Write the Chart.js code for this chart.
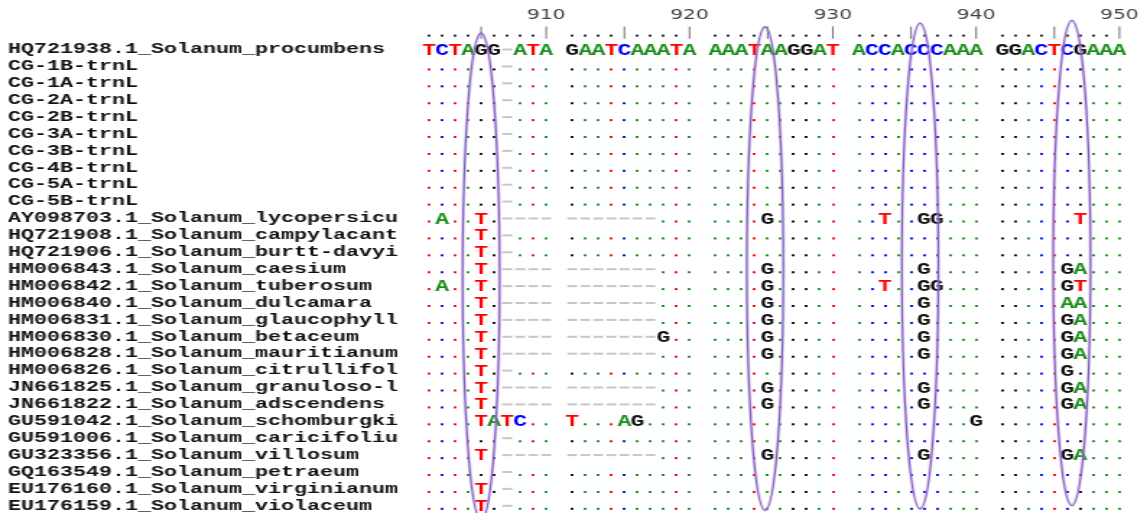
<!DOCTYPE html>
<html><head><meta charset="utf-8">
<script src="https://cdn.jsdelivr.net/npm/chart.js@4.4.1/dist/chart.umd.min.js"></script>
<style>html,body{margin:0;padding:0;background:#fff;}#wrap{width:1147px;height:513px;overflow:hidden;}canvas{display:block;}</style>
</head><body>
<div id="wrap"><canvas id="c" width="794" height="513" style="width:1147px;height:513px"></canvas></div>
<script>
// ---------- data ----------
const firstColumn = 901;
const tickColumns = [910, 920, 930, 940, 950];
const sequenceNames = [
  "HQ721938.1_Solanum_procumbens",
  "CG-1B-trnL","CG-1A-trnL","CG-2A-trnL","CG-2B-trnL","CG-3A-trnL",
  "CG-3B-trnL","CG-4B-trnL","CG-5A-trnL","CG-5B-trnL",
  "AY098703.1_Solanum_lycopersicu",
  "HQ721908.1_Solanum_campylacant",
  "HQ721906.1_Solanum_burtt-davyi",
  "HM006843.1_Solanum_caesium",
  "HM006842.1_Solanum_tuberosum",
  "HM006840.1_Solanum_dulcamara",
  "HM006831.1_Solanum_glaucophyll",
  "HM006830.1_Solanum_betaceum",
  "HM006828.1_Solanum_mauritianum",
  "HM006826.1_Solanum_citrullifol",
  "JN661825.1_Solanum_granuloso-l",
  "JN661822.1_Solanum_adscendens",
  "GU591042.1_Solanum_schomburgki",
  "GU591006.1_Solanum_caricifoliu",
  "GU323356.1_Solanum_villosum",
  "GQ163549.1_Solanum_petraeum",
  "EU176160.1_Solanum_virginianum",
  "EU176159.1_Solanum_violaceum"
];
// row 0 = reference; '.' identical to reference, '-' gap, letter = substitution
const alignedSequences = [
  "TCTAGG-ATA GAATCAAATA AAATAAGGAT ACCACCCAAA GGACTCGAAA",
  "......-... .......... .......... .......... ..........",
  "......-... .......... .......... .......... ..........",
  "......-... .......... .......... .......... ..........",
  "......-... .......... .......... .......... ..........",
  "......-... .......... .......... .......... ..........",
  "......-... .......... .......... .......... ..........",
  "......-... .......... .......... .......... ..........",
  "......-... .......... .......... .......... ..........",
  "......-... .......... .......... .......... ..........",
  ".A..T.---- -------... ....G..... ..T..GG... ......T...",
  "....T.-... .......... .......... .......... ..........",
  "....T.-... .......... .......... .......... ..........",
  "....T.---- -------... ....G..... .....G.... .....GA...",
  ".A..T.---- -------... ....G..... ..T..GG... .....GT...",
  "....T.---- -------... ....G..... .....G.... .....AA...",
  "....T.---- -------... ....G..... .....G.... .....GA...",
  "....T.---- -------G.. ....G..... .....G.... .....GA...",
  "....T.---- -------... ....G..... .....G.... .....GA...",
  "....T.-... .......... .......... .......... .....G....",
  "....T.---- -------... ....G..... .....G.... .....GA...",
  "....T.---- -------... ....G..... .....G.... .....GA...",
  "....TATC.. T...AG.... .......... .........G ..........",
  "......-... .......... .......... .......... ..........",
  "....T.---- -------... ....G..... .....G.... .....GA...",
  "......-... .......... .......... .......... ..........",
  "....T.-... .......... .......... .......... ..........",
  "....T.-... .......... .......... .......... .........."
];
// highlighted columns (purple ellipses), in alignment columns / rows
const highlightColumns   = [905.0, 924.8, 935.7, 946.35];
const highlightHalfWidth = [1.42, 1.40, 1.40, 1.43];
const highlightTopRow    = [-0.97, -1.34, -1.55, -1.72];
const highlightBottomRow = [27.85, 27.27, 27.18, 26.98];

// ---------- build ----------
const baseColors = {T:'#ff0000', C:'#0000ff', A:'#1b8f1b', G:'#111111'};
const dotColors  = {T:'#ff1010', C:'#1010ff', A:'#1f9a1f', G:'#151515'};
const rows = alignedSequences.map(s => s.replace(/ /g, ''));
const ref = rows[0];
const nCols = ref.length;
const pos = k => k + Math.floor(k / 10);

const dotPts = {T:[], C:[], A:[], G:[]};
const letterPts = {T:[], C:[], A:[], G:[]};
const gapPts = [];
rows.forEach((seq, r) => {
  for (let k = 0; k < seq.length; k++) {
    const ch = seq[k];
    const pt = {x: pos(k), y: r};
    if (ch === '-') gapPts.push(pt);
    else if (ch === '.') dotPts[ref[k]].push(pt);
    else letterPts[ch].push(Object.assign(pt, {ch}));
  }
});
const RULER_ROW = -1;
const rulerDots = [], rulerBars = [];
for (let k = 0; k < nCols; k++) {
  const col = firstColumn + k;
  (col % 5 === 0 ? rulerBars : rulerDots).push({x: pos(k), y: RULER_ROW});
}

function dotImage(color) {
  const c = document.createElement('canvas');
  c.width = 2; c.height = 10;
  const g = c.getContext('2d');
  g.fillStyle = color;
  g.fillRect(0, 7, 2, 2);
  return c;
}

const datasets = [];
['T','C','A','G'].forEach(b => datasets.push({
  data: dotPts[b], pointStyle: dotImage(dotColors[b]), pointRadius: 1, clip: false
}));
datasets.push({data: rulerDots, pointStyle: dotImage('#2a2a2a'), pointRadius: 1, clip: false});
datasets.push({data: rulerBars, pointStyle: 'line', pointRotation: 90, pointRadius: 6.2,
  borderColor: '#7a7a7a', pointBorderColor: '#7a7a7a', pointBorderWidth: 1.1, clip: false});
datasets.push({data: gapPts, pointStyle: 'line', pointRadius: 3.4,
  pointBorderColor: '#c6c6c6', pointBorderWidth: 2, clip: false});
['T','C','A','G'].forEach(b => datasets.push({
  data: letterPts[b], pointRadius: 0, pointHoverRadius: 0, isLetters: true, textColor: baseColors[b], clip: false
}));

const letterPlugin = {
  id: 'letters',
  afterDatasetsDraw(chart) {
    const ctx = chart.ctx;
    chart.data.datasets.forEach((ds, i) => {
      if (!ds.isLetters) return;
      const meta = chart.getDatasetMeta(i);
      ctx.save();
      ctx.font = 'bold 16px "Liberation Mono"';
      ctx.fillStyle = ds.textColor;
      ctx.textAlign = 'center';
      ctx.textBaseline = 'alphabetic';
      meta.data.forEach((el, j) => ctx.fillText(ds.data[j].ch, el.x, el.y + 5.0));
      ctx.restore();
    });
  }
};

const colToPos = c => { const k = c - firstColumn; return k + Math.floor(k / 10); };
const ellipsePlugin = {
  id: 'highlights',
  afterDatasetsDraw(chart) {
    const ctx = chart.ctx, xs = chart.scales.x, ys = chart.scales.y;
    highlightColumns.forEach((c, i) => {
      const p = colToPos(c);
      const cx = xs.getPixelForValue(p);
      const rx = Math.abs(xs.getPixelForValue(p + highlightHalfWidth[i]) - cx);
      const yt = ys.getPixelForValue(highlightTopRow[i]);
      const yb = ys.getPixelForValue(highlightBottomRow[i]);
      const cy = (yt + yb) / 2, ry = Math.abs(yb - yt) / 2;
      ctx.save();
      ctx.beginPath();
      ctx.ellipse(cx, cy, rx, ry, 0, 0, Math.PI * 2);
      ctx.strokeStyle = 'rgba(170,140,215,0.45)';
      ctx.lineWidth = 2.6;
      ctx.stroke();
      ctx.beginPath();
      ctx.ellipse(cx, cy, rx, ry, 0, 0, Math.PI * 2);
      ctx.strokeStyle = 'rgb(128,90,190)';
      ctx.lineWidth = 1.1;
      ctx.stroke();
      ctx.restore();
    });
  }
};

const chart = new Chart(document.getElementById('c'), {
  type: 'scatter',
  data: {datasets},
  options: {
    responsive: false,
    animation: false,
    devicePixelRatio: 1,
    events: [],
    layout: {padding: {left: 5.54, right: 14.6, top: 0, bottom: 0}},
    plugins: {legend: {display: false}, tooltip: {enabled: false}},
    scales: {
      x: {
        type: 'linear', position: 'top',
        min: -0.5, max: pos(nCols - 1) + 0.5,
        grid: {display: false, drawTicks: false},
        border: {display: false},
        afterBuildTicks: s => { s.ticks = tickColumns.map(c => ({value: colToPos(c)})); },
        afterFit: s => { s.height = 24; },
        ticks: {
          autoSkip: false, maxRotation: 0, minRotation: 0, padding: 0,
          color: '#444', font: {family: 'DejaVu Sans', size: 14},
          callback: (v, i) => String(tickColumns[i])
        }
      },
      y: {
        type: 'linear', reverse: true,
        min: -1.5, max: 27.5,
        grid: {display: false, drawTicks: false},
        border: {display: false},
        afterBuildTicks: s => { s.ticks = sequenceNames.map((_, i) => ({value: i})); },
        afterFit: s => { s.width = 286.92; },
        ticks: {
          autoSkip: false, crossAlign: 'far', padding: 0,
          color: '#111', font: {family: 'Liberation Mono', size: 15, weight: 'bold', lineHeight: 1},
          callback: v => sequenceNames[v]
        }
      }
    }
  },
  plugins: [letterPlugin, ellipsePlugin]
});

// fit the row range to the plot height so rows sit at the reference pitch
const ROW_PITCH = 16.9, ROW0_PIXEL = 49.5;
const area = chart.chartArea;
const yMin = -(ROW0_PIXEL - area.top) / ROW_PITCH;
chart.options.scales.y.min = yMin;
chart.options.scales.y.max = yMin + (area.bottom - area.top) / ROW_PITCH;
chart.update();
</script>
</body></html>
